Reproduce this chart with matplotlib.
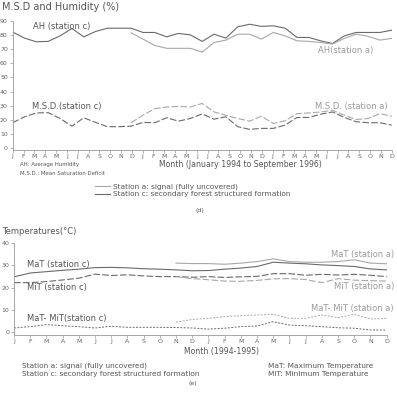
import numpy as np
import matplotlib
matplotlib.use("Agg")
import matplotlib.pyplot as plt
from matplotlib.lines import Line2D

# --- data (d): Jan 1994 .. Sep 1996, 33 monthly values
ah_c = [82, 77.7, 75.1, 75.4, 79.3, 84.5, 78.6, 82.4, 84.7, 84.7, 84.7, 81.7, 81.7,
        78.6, 81, 80, 75.4, 80.5, 77.7, 85.7, 87.5, 86, 86.4, 84.7, 78.2, 78.2,
        75.8, 73.9, 79.3, 81.7, 81.7, 81.7, 83.3]
msd_c = [18, 22.2, 24.9, 25.1, 21, 15.6, 21.5, 18.2, 15.2, 15.2, 15.6, 18.2, 18,
         21.5, 19.1, 21, 24.2, 20.5, 22.2, 15.2, 13.3, 14, 14, 16.3, 21.7, 21.7,
         24, 25.6, 21.7, 18.7, 18, 18, 16.3]
# station a starts in month index 10
a_start_d = 10
ah_a = [81.5, 77, 72.5, 70.5, 70.5, 70.5, 67.8, 74.6, 76.3, 80.5, 80.5, 77, 81.7,
        79.3, 75.8, 75.4, 74.6, 73.5, 77.5, 80.5, 79, 76.3, 77.5]
msd_a = [18, 23.3, 27.9, 29.1, 29.5, 29.1, 31.6, 25.6, 23.3, 21, 19.1, 22.6, 17.5,
         19.4, 24.4, 24.9, 25.6, 26.7, 23.3, 20.3, 21, 24.4, 22.6]
months_d = list("JFMAMJJASOND") * 3

# --- data (e): 1994-1995, 24 monthly values
mat_c = [24.8, 26.5, 27.1, 27.7, 28.2, 28.9, 29.0, 28.8, 28.4, 28.2, 27.9, 27.5,
         27.6, 28.2, 28.7, 29.4, 31.3, 30.9, 30.6, 30.1, 29.8, 29.4, 28.3, 27.9]
mit_c = [22.2, 22.2, 22.7, 23.4, 24.2, 26.0, 25.4, 25.7, 25.2, 24.9, 24.9, 24.6,
         24.9, 24.5, 24.8, 25.0, 26.2, 26.2, 25.5, 25.9, 25.6, 25.9, 25.5, 24.9]
dif_c = [2.0, 2.6, 3.5, 3.0, 2.6, 2.0, 2.8, 2.3, 2.3, 2.3, 2.2, 2.0,
         1.5, 1.9, 2.6, 2.9, 4.8, 3.3, 3.0, 2.6, 2.1, 1.9, 1.1, 1.1]
a_start_e = 10
mat_a = [30.9, 30.7, 30.7, 30.4, 30.9, 31.6, 32.8, 31.6, 31.3, 31.3, 31.6, 32.4, 30.9, 30.6]
mit_a = [24.9, 24.0, 23.5, 22.9, 22.8, 23.2, 23.9, 24.0, 23.6, 22.2, 24.0, 23.3, 23.1, 22.9]
dif_a = [4.6, 5.8, 6.3, 7.1, 7.5, 7.8, 8.1, 6.3, 6.3, 7.8, 6.6, 8.1, 6.0, 6.3]
months_e = list("JFMAMJJASOND") * 2

DARK = "#6a6a6a"
LIGHT = "#a8a8a8"
TXT = "#555555"
TXT_A = "#9a9a9a"

W, H = 397, 399
fig = plt.figure(figsize=(W / 100, H / 100), dpi=100)


def fx(x):
    return x / W


def fy(y):
    return 1 - y / H


def style(ax):
    for s in ["top", "right"]:
        ax.spines[s].set_visible(False)
    for s in ["left", "bottom"]:
        ax.spines[s].set_color("#999999")
        ax.spines[s].set_linewidth(0.6)
    ax.tick_params(labelsize=4.5, colors="#999999", labelcolor="#666666",
                   length=2, width=0.5, pad=1.5)


# ---------------- panel (d)
ax1 = fig.add_axes([fx(12.7), fy(149.5), fx(391.7) - fx(12.7), fy(20.7) - fy(149.5)])
style(ax1)
xc = np.arange(len(ah_c))
xa = np.arange(a_start_d, a_start_d + len(ah_a))
ax1.plot(xc, ah_c, color=DARK, lw=0.8)
ax1.plot(xa, ah_a, color=LIGHT, lw=0.8)
ax1.plot(xc, msd_c, color=DARK, lw=0.8, dashes=(6, 2))
ax1.plot(xa, msd_a, color=LIGHT, lw=0.8, dashes=(6, 2))
ax1.set_xlim(0, len(ah_c) - 1)
ax1.set_ylim(-0.9, 90)
ax1.set_yticks(range(0, 91, 10))
n = len(months_d)
ax1.set_xticks([i * (len(ah_c) - 1) / (n - 1) for i in range(n)])
ax1.set_xticklabels(months_d)

fig.text(fx(2), fy(7), "M.S.D and Humidity (%)", fontsize=7, color=TXT, va="center")
fig.text(fx(33), fy(27), "AH (station c)", fontsize=6, color=TXT, va="center")
fig.text(fx(318), fy(51), "AH(station a)", fontsize=6, color=TXT_A, va="center")
fig.text(fx(32), fy(107), "M.S.D.(station c)", fontsize=6, color=TXT, va="center")
fig.text(fx(315), fy(107), "M.S.D. (station a)", fontsize=6, color=TXT_A, va="center")
fig.text(fx(240), fy(164.5), "Month (January 1994 to September 1996)", fontsize=5.6,
         color=TXT, ha="center", va="center")
fig.text(fx(20), fy(165), "AH: Average Humidity", fontsize=3.9, color=TXT, va="center")
fig.text(fx(20), fy(173.5), "M.S.D.: Mean Saturation Deficit", fontsize=3.9, color=TXT, va="center")
fig.legend(handles=[Line2D([], [], color=LIGHT, lw=0.8), Line2D([], [], color=DARK, lw=0.8)],
           labels=["Station a: signal (fully uncovered)",
                   "Station c: secondary forest structured formation"],
           loc="upper left", bbox_to_anchor=(fx(95), fy(183.5)), frameon=False,
           fontsize=5.3, handlelength=2.0, handletextpad=0.4, borderpad=0,
           borderaxespad=0, labelspacing=0.15, labelcolor=TXT)
fig.text(fx(200), fy(210.7), "(d)", fontsize=4.5, color=TXT, ha="center", va="center")

# ---------------- panel (e)
ax2 = fig.add_axes([fx(14), fy(334.5), fx(386.7) - fx(14), fy(242.7) - fy(334.5)])
style(ax2)
ec = np.arange(len(mat_c))
ea = np.arange(a_start_e, a_start_e + len(mat_a))
ax2.plot(ec, mat_c, color=DARK, lw=0.8)
ax2.plot(ea, mat_a, color=LIGHT, lw=0.8)
ax2.plot(ec, mit_c, color=DARK, lw=0.8, dashes=(6, 2))
ax2.plot(ea, mit_a, color=LIGHT, lw=0.8, dashes=(6, 2))
ax2.plot(ec, dif_c, color=DARK, lw=0.7, dashes=(2, 1.5))
ax2.plot(ea, dif_a, color=LIGHT, lw=0.7, dashes=(2, 1.5))
ax2.set_xlim(0, len(mat_c) - 1)
ax2.set_ylim(-0.9, 40)
ax2.set_yticks(range(0, 41, 10))
ax2.set_xticks(ec)
ax2.set_xticklabels(months_e)

fig.text(fx(2), fy(231.7), "Temperatures(°C)", fontsize=6, color=TXT, va="center")
fig.text(fx(27), fy(264.3), "MaT (station c)", fontsize=6, color=TXT, va="center")
fig.text(fx(27), fy(287.7), "MiT (station c)", fontsize=6, color=TXT, va="center")
fig.text(fx(27), fy(319), "MaT- MiT(station c)", fontsize=6, color=TXT, va="center")
fig.text(fx(394), fy(254), "MaT (station a)", fontsize=6, color=TXT_A, va="center", ha="right")
fig.text(fx(394), fy(286.7), "MiT (station a)", fontsize=6, color=TXT_A, va="center", ha="right")
fig.text(fx(394), fy(308.3), "MaT- MiT (station a)", fontsize=6, color=TXT_A, va="center", ha="right")
fig.text(fx(221), fy(351.7), "Month (1994-1995)", fontsize=5.6, color=TXT, ha="center", va="center")
fig.text(fx(21.7), fy(365.7), "Station a: signal (fully uncovered)", fontsize=5.3, color=TXT, va="center")
fig.text(fx(21.7), fy(374.2), "Station c: secondary forest structured formation", fontsize=5.3,
         color=TXT, va="center")
fig.text(fx(268), fy(365.7), "MaT: Maximum Temperature", fontsize=5.3, color=TXT, va="center")
fig.text(fx(268), fy(374.2), "MiT: Minimum Temperature", fontsize=5.3, color=TXT, va="center")
fig.text(fx(193), fy(383.5), "(e)", fontsize=4.5, color=TXT, ha="center", va="center")

fig.savefig("out.png", dpi=100)
